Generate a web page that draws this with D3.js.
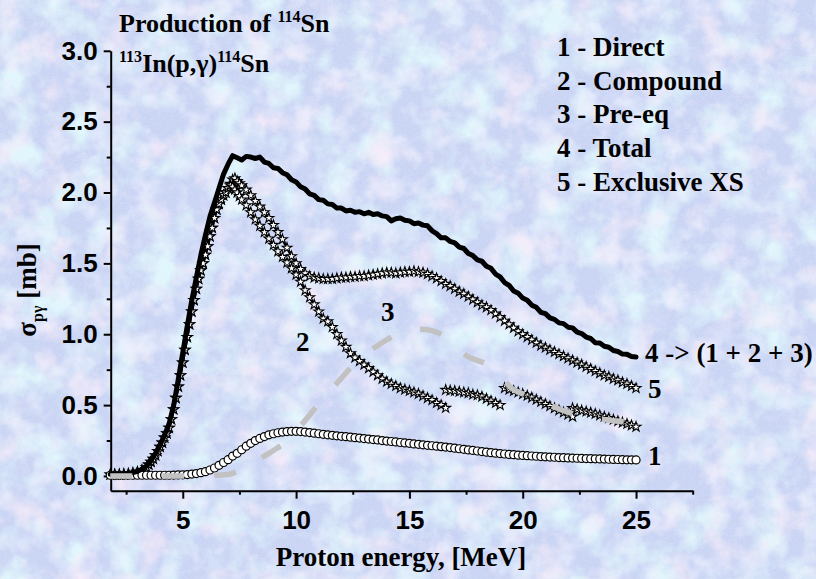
<!DOCTYPE html>
<html>
<head>
<meta charset="utf-8">
<script src="https://cdn.jsdelivr.net/npm/d3@7"></script>
<style>
  html, body { margin: 0; padding: 0; background: #c9d4f4; }
  svg { display: block; }
  .serif { font-family: "Liberation Serif", "Times New Roman", Times, serif; font-weight: bold; }
  .sans { font-family: "Liberation Sans", Arial, Helvetica, sans-serif; font-weight: bold; }
</style>
</head>
<body>
<svg id="chart" width="816" height="579"></svg>
<script>
// ---------------------------------------------------------------
// 113In(p,γ)114Sn excitation functions (cross sections in mb)
// ---------------------------------------------------------------

// Regular 0.2 MeV energy grid used by the Direct and Total curves
const energyGrid = d3.range(18, 251, 2).map(v => v / 10); // 1.8 … 25.0 MeV

// 1 - Direct
const directXS = [
  0.005, 0.005, 0.005, 0.005, 0.005, 0.005, 0.005, 0.005, 0.005, 0.005,
  0.005, 0.005, 0.005, 0.005, 0.006, 0.007, 0.008, 0.010, 0.013, 0.017,
  0.023, 0.030, 0.042, 0.056, 0.075, 0.095, 0.115, 0.140, 0.160, 0.185,
  0.210, 0.230, 0.250, 0.265, 0.278, 0.290, 0.298, 0.305, 0.310, 0.313,
  0.315, 0.315, 0.313, 0.310, 0.306, 0.302, 0.298, 0.294, 0.290, 0.287,
  0.283, 0.280, 0.277, 0.274, 0.270, 0.267, 0.264, 0.260, 0.257, 0.254,
  0.250, 0.246, 0.243, 0.240, 0.236, 0.233, 0.230, 0.226, 0.223, 0.220,
  0.216, 0.213, 0.210, 0.207, 0.204, 0.200, 0.196, 0.192, 0.188, 0.184,
  0.180, 0.176, 0.172, 0.168, 0.164, 0.161, 0.158, 0.155, 0.152, 0.150,
  0.147, 0.145, 0.143, 0.141, 0.139, 0.137, 0.135, 0.133, 0.132, 0.130,
  0.129, 0.127, 0.126, 0.125, 0.124, 0.123, 0.122, 0.121, 0.120, 0.119,
  0.118, 0.117, 0.116, 0.115, 0.114, 0.114, 0.113
];

// 4 - Total (1 + 2 + 3)
const totalXS = [
  0.012, 0.012, 0.013, 0.015, 0.018, 0.024, 0.033, 0.047, 0.070, 0.110,
  0.160, 0.220, 0.290, 0.370, 0.500, 0.680, 0.870, 1.060, 1.240, 1.400,
  1.560, 1.700, 1.830, 1.930, 2.030, 2.130, 2.200, 2.260, 2.245, 2.230,
  2.255, 2.250, 2.240, 2.250, 2.215, 2.205, 2.175, 2.170, 2.140, 2.125,
  2.090, 2.075, 2.040, 2.025, 1.990, 1.980, 1.950, 1.945, 1.920, 1.915,
  1.890, 1.890, 1.870, 1.875, 1.860, 1.865, 1.850, 1.860, 1.845, 1.850,
  1.835, 1.830, 1.800, 1.815, 1.820, 1.805, 1.800, 1.780, 1.785, 1.770,
  1.765, 1.730, 1.710, 1.680, 1.680, 1.655, 1.645, 1.615, 1.605, 1.570,
  1.555, 1.525, 1.515, 1.480, 1.465, 1.425, 1.405, 1.365, 1.345, 1.305,
  1.290, 1.255, 1.240, 1.205, 1.190, 1.155, 1.145, 1.115, 1.105, 1.080,
  1.075, 1.050, 1.045, 1.015, 1.005, 0.980, 0.970, 0.940, 0.938, 0.915,
  0.908, 0.885, 0.878, 0.860, 0.858, 0.843, 0.840
];

// Rising edge shared by the compound and exclusive curves
const riseE = [
  1.8, 2.0, 2.2, 2.4, 2.6, 2.8, 3.0, 3.2, 3.4,
  3.5, 3.6, 3.7, 3.8, 3.9, 4.0, 4.1, 4.2, 4.3, 4.4, 4.5, 4.6, 4.7, 4.8, 4.9,
  5.0, 5.1, 5.2, 5.3, 5.4, 5.5, 5.6, 5.7, 5.8, 5.9, 6.0, 6.1, 6.2, 6.3, 6.4,
  6.5, 6.6, 6.7, 6.8, 6.9
];
const riseXS = [
  0.010, 0.010, 0.010, 0.012, 0.015, 0.020, 0.028, 0.040, 0.060,
  0.080, 0.100, 0.120, 0.145, 0.175, 0.205, 0.235, 0.270, 0.300, 0.340,
  0.400, 0.470, 0.550, 0.630, 0.710, 0.800, 0.890, 0.980, 1.070, 1.160,
  1.240, 1.320, 1.390, 1.450, 1.500, 1.560, 1.620, 1.690, 1.750, 1.820,
  1.880, 1.920, 1.950, 1.980, 2.000
];

// 5 - Exclusive XS, above 7 MeV
const exclusiveE = [7.0, 7.1, 7.2, 7.3, 7.4, 7.5].concat(d3.range(76, 251, 2).map(v => v / 10));
const exclusiveXS = [
  2.030, 2.060, 2.090, 2.100, 2.080, 2.065,
  2.050, 2.020, 1.980, 1.940, 1.900, 1.860, 1.820, 1.770, 1.720, 1.670,
  1.610, 1.550, 1.500, 1.460, 1.430, 1.410, 1.400, 1.395, 1.390, 1.390,
  1.390, 1.395, 1.400, 1.400, 1.405, 1.405, 1.410, 1.410, 1.415, 1.420,
  1.425, 1.430, 1.435, 1.435, 1.430, 1.435, 1.440, 1.440, 1.445, 1.440,
  1.435, 1.425, 1.410, 1.395, 1.375, 1.355, 1.340, 1.320, 1.300, 1.285,
  1.265, 1.245, 1.225, 1.205, 1.190, 1.170, 1.145, 1.120, 1.095, 1.070,
  1.045, 1.020, 1.000, 0.980, 0.960, 0.940, 0.920, 0.905, 0.890, 0.875,
  0.860, 0.845, 0.830, 0.815, 0.800, 0.785, 0.770, 0.755, 0.740, 0.725,
  0.710, 0.700, 0.685, 0.675, 0.660, 0.650, 0.635, 0.620
];

// 2 - Compound, above 7 MeV (the high-energy part comes in separate pieces)
const compoundE = [7.0, 7.1, 7.2, 7.3, 7.4, 7.5].concat(d3.range(76, 167, 2).map(v => v / 10));
const compoundXS = [
  2.030, 2.050, 2.040, 2.020, 2.000, 1.975,
  1.950, 1.910, 1.860, 1.810, 1.765, 1.720, 1.675, 1.630, 1.585, 1.545,
  1.505, 1.465, 1.420, 1.370, 1.310, 1.260, 1.210, 1.160, 1.110, 1.090,
  1.050, 1.000, 0.955, 0.910, 0.865, 0.835, 0.810, 0.785, 0.760, 0.735,
  0.710, 0.685, 0.665, 0.650, 0.635, 0.620, 0.610, 0.600, 0.590, 0.580,
  0.565, 0.550, 0.535, 0.515, 0.500, 0.480
];
const compoundPieces = [
  { e: [16.6, 16.8, 17.0, 17.2, 17.4, 17.6, 17.8, 18.0, 18.2, 18.4, 18.6, 18.8, 19.0],
    xs: [0.607, 0.603, 0.600, 0.595, 0.590, 0.585, 0.575, 0.570, 0.560, 0.545, 0.530, 0.515, 0.500] },
  { e: [19.2, 19.4, 19.6, 19.8, 20.0, 20.2, 20.4, 20.6, 20.8, 21.0, 21.2, 21.4, 21.6, 21.8, 22.0, 22.2],
    xs: [0.620, 0.610, 0.600, 0.590, 0.578, 0.566, 0.553, 0.538, 0.523, 0.508, 0.493, 0.478, 0.463, 0.448, 0.433, 0.418] },
  { e: [22.2, 22.4, 22.6, 22.8, 23.0, 23.2, 23.4, 23.6, 23.8, 24.0, 24.2, 24.4, 24.6, 24.8, 25.0],
    xs: [0.478, 0.470, 0.462, 0.455, 0.447, 0.438, 0.428, 0.418, 0.408, 0.397, 0.387, 0.377, 0.367, 0.357, 0.347] }
];

// 3 - Pre-equilibrium
const preEqE = [
  1.8, 2.5, 3.0, 3.5, 4.0, 4.5, 5.0, 5.5, 6.0, 6.5, 7.0, 7.5, 8.0, 8.5, 9.0,
  9.5, 10.0, 10.5, 11.0, 11.5, 12.0, 12.5, 13.0, 13.5, 14.0, 14.5, 15.0, 15.5,
  16.0, 16.5, 17.0, 17.5, 18.0, 18.5, 19.0, 19.5, 20.0, 20.5, 21.0, 21.5, 22.0,
  22.5, 23.0, 23.5, 24.0, 24.5, 25.0
];
const preEqXS = [
  0, 0, 0, 0, 0, 0, 0, 0, 0.002, 0.005, 0.010, 0.040, 0.080, 0.130, 0.180,
  0.235, 0.320, 0.410, 0.510, 0.600, 0.690, 0.780, 0.850, 0.910, 0.960, 1.000,
  1.020, 1.035, 1.025, 0.990, 0.920, 0.850, 0.815, 0.785, 0.710, 0.620, 0.580,
  0.550, 0.515, 0.480, 0.450, 0.425, 0.410, 0.400, 0.390, 0.383, 0.372
];

// Axis ticks
const xMajorTicks = [5, 10, 15, 20, 25];
const xMinorTicks = [2.5, 7.5, 12.5, 17.5, 22.5, 27.5];
const yMajorTicks = [0, 0.5, 1.0, 1.5, 2.0, 2.5, 3.0];
const yMinorTicks = [0.25, 0.75, 1.25, 1.75, 2.25, 2.75];

// Legend entries
const legendItems = ["1 - Direct", "2 - Compound", "3 - Pre-eq", "4 - Total", "5 - Exclusive XS"];

// ---------------------------------------------------------------
const check = (a, b, name) => { if (a.length !== b.length) throw new Error(name + ": " + a.length + " vs " + b.length); };
check(energyGrid, directXS, "direct");
check(energyGrid, totalXS, "total");
check(riseE, riseXS, "rise");
check(exclusiveE, exclusiveXS, "exclusive");
check(compoundE, compoundXS, "compound");
check(preEqE, preEqXS, "preEq");
compoundPieces.forEach((p, i) => check(p.e, p.xs, "piece" + i));

const zip = (es, vs) => es.map((e, i) => ({ e, v: vs[i] }));

const svg = d3.select("#chart");
const W = 816, H = 579;

// ---- textured background ----
const defs = svg.append("defs");
function noiseFilter(id, freq, seed, octaves, matrix) {
  const f = defs.append("filter").attr("id", id)
    .attr("x", 0).attr("y", 0).attr("width", W).attr("height", H)
    .attr("filterUnits", "userSpaceOnUse");
  f.append("feTurbulence").attr("type", "fractalNoise")
    .attr("baseFrequency", freq).attr("numOctaves", octaves).attr("seed", seed);
  f.append("feColorMatrix").attr("type", "matrix").attr("values", matrix);
}
noiseFilter("tintCyan", 0.028, 4, 4, "0 0 0 0 0.74  0 0 0 0 0.92  0 0 0 0 0.97  0 2.9 0 0 -1.28");
noiseFilter("tintPink", 0.03, 11, 4, "0 0 0 0 0.95  0 0 0 0 0.84  0 0 0 0 0.95  2.3 0 0 0 -1.2");
noiseFilter("tintLilac", 0.045, 23, 3, "0 0 0 0 0.84  0 0 0 0 0.87  0 0 0 0 0.99  0 0 2.0 0 -0.95");
noiseFilter("grain", 0.6, 2, 2, "0 0 0 0 1  0 0 0 0 1  0 0 0 0 1  1.2 0 0 0 -0.5");

svg.append("rect").attr("width", W).attr("height", H).attr("fill", "#c9d4f4");
["tintCyan", "tintPink", "tintLilac"].forEach(id =>
  svg.append("rect").attr("width", W).attr("height", H).attr("filter", `url(#${id})`));
svg.append("rect").attr("width", W).attr("height", H).attr("filter", "url(#grain)").attr("opacity", 0.3);

// ---- scales ----
const x = d3.scaleLinear().domain([1.82, 27.5]).range([110.7, 692.7]);
const y = d3.scaleLinear().domain([-0.104, 3.0]).range([490.7, 50.8]);

// ---- axes ----
const xAxisG = svg.append("g").attr("transform", `translate(0,${y.range()[0]})`);
xAxisG.call(d3.axisBottom(x).tickValues(xMajorTicks).tickFormat(d3.format("d"))
  .tickSize(8).tickSizeOuter(0).tickPadding(6));
const xMinorG = svg.append("g").attr("transform", `translate(0,${y.range()[0]})`);
xMinorG.call(d3.axisBottom(x).tickValues(xMinorTicks).tickFormat("").tickSize(4).tickSizeOuter(0));
xMinorG.select(".domain").remove();

const yAxisG = svg.append("g").attr("transform", `translate(${x.range()[0]},0)`);
yAxisG.call(d3.axisLeft(y).tickValues(yMajorTicks).tickFormat(d3.format(".1f"))
  .tickSize(7).tickSizeOuter(0).tickPadding(6));
const yMinorG = svg.append("g").attr("transform", `translate(${x.range()[0]},0)`);
yMinorG.call(d3.axisLeft(y).tickValues(yMinorTicks).tickFormat("").tickSize(4).tickSizeOuter(0));
yMinorG.select(".domain").remove();

[xAxisG, xMinorG, yAxisG, yMinorG].forEach(g => {
  g.attr("font-family", null).attr("font-size", null);
  g.selectAll(".domain").attr("stroke", "#000").attr("stroke-width", 2);
  g.selectAll(".tick line").attr("stroke", "#000").attr("stroke-width", 2);
});
[xAxisG, yAxisG].forEach(g => g.selectAll(".tick text")
  .attr("class", "sans").attr("fill", "#000").style("font-size", "26px"));
xAxisG.selectAll(".tick text").attr("dy", "0.92em");

// ---- curves ----
const plot = svg.append("g");
const lineGen = d3.line().x(d => x(d.e)).y(d => y(d.v));
const star = d3.symbol().type(d3.symbolStar).size(30);

function starSeries(points) {
  plot.append("path").datum(points).attr("d", lineGen)
    .attr("fill", "none").attr("stroke", "#000").attr("stroke-width", 2.5);
  plot.append("g").selectAll("path").data(points).join("path")
    .attr("transform", d => `translate(${x(d.e)},${y(d.v)})`)
    .attr("d", star).attr("fill", "#fff").attr("stroke", "#000").attr("stroke-width", 1.1);
}

const risePts = zip(riseE, riseXS);
// 5 - Exclusive XS
starSeries(risePts.concat(zip(exclusiveE, exclusiveXS)));
// 2 - Compound
starSeries(risePts.concat(zip(compoundE, compoundXS)));
compoundPieces.forEach(p => starSeries(zip(p.e, p.xs)));

// 1 - Direct
const directPts = zip(energyGrid, directXS);
plot.append("g").selectAll("circle").data(directPts).join("circle")
  .attr("cx", d => x(d.e)).attr("cy", d => y(d.v)).attr("r", 4)
  .attr("fill", "#fff").attr("stroke", "#000").attr("stroke-width", 1.2);

// 4 - Total
plot.append("path").datum(zip(energyGrid, totalXS)).attr("d", lineGen)
  .attr("fill", "none").attr("stroke", "#000").attr("stroke-width", 5)
  .attr("stroke-linejoin", "round").attr("stroke-linecap", "round");

// 3 - Pre-eq
plot.append("path").datum(zip(preEqE, preEqXS))
  .attr("d", d3.line().x(d => x(d.e)).y(d => y(d.v)).curve(d3.curveMonotoneX))
  .attr("fill", "none").attr("stroke", "#c2c2c2").attr("stroke-width", 5.5)
  .attr("stroke-dasharray", "22,30").attr("stroke-dashoffset", 0);

// ---- titles ----
const txt = svg.append("g").attr("fill", "#000");

const t1 = txt.append("text").attr("class", "serif").attr("x", 119).attr("y", 32).style("font-size", "26px");
t1.append("tspan").text("Production of ");
t1.append("tspan").attr("dy", -10).style("font-size", "16px").text("114");
t1.append("tspan").attr("dy", 10).text("Sn");

const t2 = txt.append("text").attr("class", "serif").attr("x", 119).attr("y", 72).style("font-size", "26px");
t2.append("tspan").attr("dy", -10).style("font-size", "16px").text("113");
t2.append("tspan").attr("dy", 10).text("In(p,γ)");
t2.append("tspan").attr("dy", -10).style("font-size", "16px").text("114");
t2.append("tspan").attr("dy", 10).text("Sn");

// ---- legend ----
txt.append("g").selectAll("text").data(legendItems).join("text")
  .attr("class", "serif")
  .attr("x", 557).attr("y", (d, i) => 56 + i * 33.7)
  .style("font-size", "27px").text(d => d);

// ---- curve labels ----
const curveLabels = [
  { t: "4 -> (1 + 2 + 3)", x: 645, y: 362 },
  { t: "5", x: 648, y: 398 },
  { t: "1", x: 648, y: 465 },
  { t: "3", x: 381, y: 321 },
  { t: "2", x: 296, y: 351 }
];
txt.append("g").selectAll("text").data(curveLabels).join("text")
  .attr("class", "serif")
  .attr("x", d => d.x).attr("y", d => d.y).style("font-size", "27px").text(d => d.t);

// ---- axis titles ----
txt.append("text").attr("class", "serif").attr("x", 401).attr("y", 566).attr("text-anchor", "middle")
  .style("font-size", "27px").text("Proton energy, [MeV]");

const yl = txt.append("text").attr("class", "serif").attr("transform", "translate(36,290) rotate(-90)")
  .attr("text-anchor", "middle").style("font-size", "27px");
yl.append("tspan").text("σ");
yl.append("tspan").attr("dy", 7).style("font-size", "16px").text("pγ");
yl.append("tspan").attr("dy", -7).text(" [mb]");
</script>
</body>
</html>
